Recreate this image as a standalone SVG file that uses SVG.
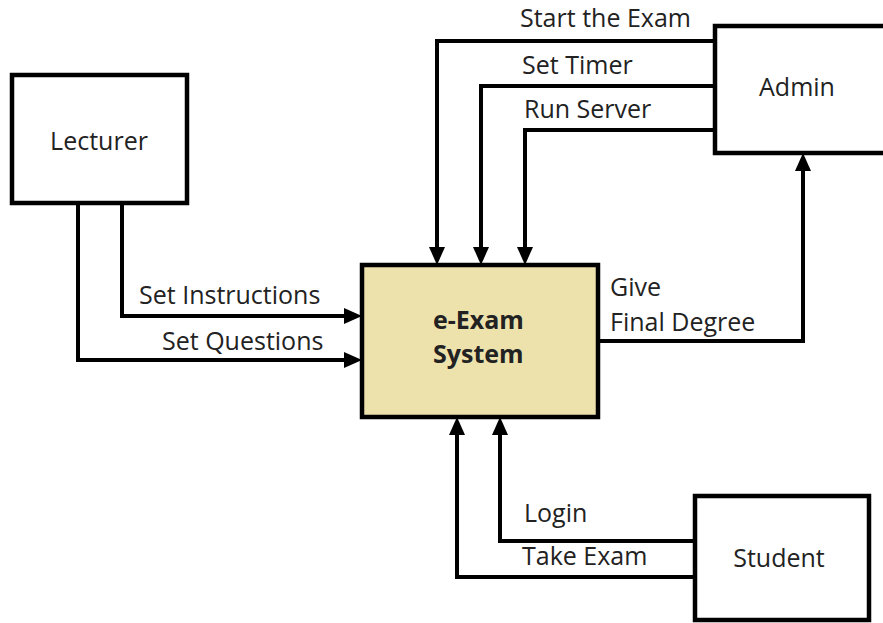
<svg xmlns="http://www.w3.org/2000/svg" width="883" height="623" viewBox="0 0 883 623">
<defs>
<marker id="arr" markerUnits="userSpaceOnUse" markerWidth="18" markerHeight="16" viewBox="0 0 18 16" refX="11" refY="8" orient="auto">
<path d="M0,0 L18,8 L0,16 z" fill="#000"/>
</marker>
</defs>
<style>
.box{fill:#fff;stroke:#000;stroke-width:4.5}
.sys{fill:#EDE1AC;stroke:#000;stroke-width:4.5}
.ln{fill:none;stroke:#000;stroke-width:4;marker-end:url(#arr)}
text{font-family:"Open Sans","Noto Sans",sans-serif;font-size:25px;fill:#222}
.b{font-weight:bold}
</style>
<rect width="883" height="623" fill="#fff"/>
<g id="connectors">
<path class="ln" d="M715,41 H437 V258"/>
<path class="ln" d="M715,86 H481 V258"/>
<path class="ln" d="M715,130 H525 V258"/>
<path class="ln" d="M122,203 V316 H355"/>
<path class="ln" d="M78,203 V360 H355"/>
<path class="ln" d="M598,341 H803 V160"/>
<path class="ln" d="M695,541 H500 V424"/>
<path class="ln" d="M695,577 H457 V424"/>
<text x="520" y="27">Start the Exam</text>
<text x="522" y="74">Set Timer</text>
<text x="524" y="118">Run Server</text>
<text x="139" y="304">Set Instructions</text>
<text x="162" y="350">Set Questions</text>
<text x="610" y="296">Give</text>
<text x="610" y="331">Final Degree</text>
<text x="524" y="522">Login</text>
<text x="522" y="565">Take Exam</text>
</g>
<g id="lecturer">
<rect class="box" x="12" y="75" width="175" height="128"/>
<text x="99" y="150" text-anchor="middle">Lecturer</text>
</g>
<g id="admin">
<rect class="box" x="715" y="26" width="175" height="127"/>
<text x="797" y="96" text-anchor="middle">Admin</text>
</g>
<g id="system">
<rect class="sys" x="362" y="265" width="236" height="152"/>
<text class="b" x="433" y="329">e-Exam<tspan x="433" y="363">System</tspan></text>
</g>
<g id="student">
<rect class="box" x="695" y="496" width="174" height="124"/>
<text x="779" y="567" text-anchor="middle">Student</text>
</g>
</svg>
